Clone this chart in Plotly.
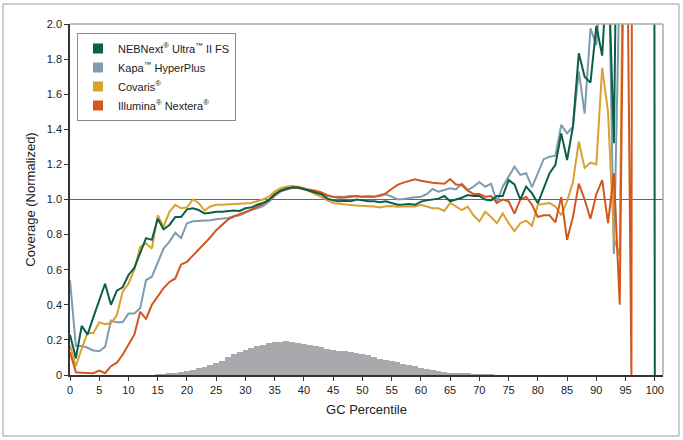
import plotly.graph_objects as go

gc = list(range(0, 101))

nebnext = [0.23, 0.095, 0.28, 0.23, 0.33, 0.43, 0.52, 0.40, 0.48, 0.50,
           0.57, 0.61, 0.70, 0.78, 0.77, 0.89, 0.83, 0.855, 0.90, 0.90,
           0.944, 0.95, 0.94, 0.92, 0.925, 0.93, 0.93, 0.935, 0.937, 0.935,
           0.95, 0.955, 0.97, 0.98, 0.997, 1.03, 1.05, 1.06, 1.07, 1.068,
           1.058, 1.05, 1.04, 1.03, 1.005, 0.995, 0.99, 0.993, 0.99, 1.0,
           0.995, 0.99, 0.99, 0.985, 0.99, 0.98, 0.97, 0.972, 0.975, 0.97,
           0.988, 0.995, 1.0, 1.005, 1.02, 0.99, 1.0, 1.01, 1.025, 1.02,
           1.02, 1.0, 0.995, 1.02, 1.02, 1.11, 1.086, 1.0, 1.073, 1.035,
           0.978, 1.064, 1.15, 1.197, 1.377, 1.225, 1.415, 1.833, 1.70, 1.666,
           1.99, 1.82, 2.4, 1.32, 4.7, 6.0, 8.0, 10.0, 15.0, 30.0,
           0.0]

kapa = [0.54, 0.165, 0.165, 0.155, 0.14, 0.135, 0.16, 0.31, 0.30, 0.30,
        0.35, 0.35, 0.38, 0.54, 0.56, 0.645, 0.72, 0.76, 0.81, 0.78,
        0.865, 0.876, 0.878, 0.878, 0.882, 0.887, 0.89, 0.895, 0.905, 0.91,
        0.925, 0.94, 0.95, 0.963, 0.987, 1.02, 1.045, 1.058, 1.067, 1.066,
        1.06, 1.055, 1.045, 1.035, 1.02, 1.016, 1.015, 1.016, 1.02, 1.016,
        1.016, 1.02, 1.016, 1.02, 1.03, 1.016, 1.0, 1.003, 1.01, 1.013,
        1.016, 1.03, 1.06, 1.045, 1.054, 1.064, 1.058, 1.09, 1.054, 1.073,
        1.1, 1.073, 1.09, 0.985, 1.073, 1.13, 1.187, 1.14, 1.15, 1.07,
        1.15, 1.23, 1.244, 1.25, 1.425, 1.377, 1.415, 1.73, 1.49, 1.975,
        1.88, 2.3, 2.6, 0.69, 2.3, 3.0, 4.0, 5.0, 6.0, 7.0,
        8.0]

covaris = [0.17, 0.05, 0.15, 0.24, 0.24, 0.30, 0.29, 0.295, 0.34, 0.475,
           0.52, 0.60, 0.73, 0.75, 0.72, 0.91, 0.845, 0.93, 0.97, 0.95,
           0.955, 1.0, 0.98, 0.937, 0.96, 0.97, 0.97, 0.972, 0.972, 0.975,
           0.98, 0.98, 0.99, 1.0, 1.016, 1.045, 1.064, 1.073, 1.077, 1.073,
           1.064, 1.045, 1.03, 1.015, 0.995, 0.98, 0.975, 0.97, 0.968, 0.966,
           0.965, 0.962, 0.96, 0.955, 0.962, 0.963, 0.958, 0.96, 0.958, 0.96,
           0.97, 0.96, 0.95, 0.95, 0.935, 0.98, 0.96, 0.94, 0.96, 0.91,
           0.875, 0.93, 0.90, 0.865, 0.92, 0.865, 0.82, 0.865, 0.88, 0.85,
           0.97, 0.975, 0.98, 0.96, 0.91, 0.99, 1.10, 1.33, 1.18, 1.21,
           1.20, 1.75, 1.50, 0.78, 0.68, 4.0, 5.0, 6.0, 6.0, 6.0,
           6.0]

illumina = [0.13, 0.015, 0.013, 0.01, 0.01, 0.025, 0.01, 0.05, 0.07, 0.115,
            0.17, 0.23, 0.36, 0.32, 0.40, 0.445, 0.495, 0.53, 0.55, 0.63,
            0.645, 0.68, 0.715, 0.745, 0.785, 0.825, 0.855, 0.885, 0.903, 0.915,
            0.927, 0.942, 0.958, 0.975, 0.995, 1.025, 1.05, 1.064, 1.068, 1.068,
            1.062, 1.058, 1.05, 1.04, 1.025, 1.015, 1.01, 1.012, 1.015, 1.02,
            1.015, 1.015, 1.015, 1.025, 1.035, 1.06, 1.083, 1.096, 1.107, 1.115,
            1.107, 1.10, 1.095, 1.092, 1.09, 1.117, 1.085, 1.083, 1.05, 1.032,
            1.032, 1.016, 1.02, 0.98, 1.0, 0.99, 0.92, 1.0, 1.015, 0.97,
            0.90, 0.91, 0.91, 0.87, 1.015, 0.77, 0.90, 1.09, 1.0, 0.89,
            1.03, 1.11, 0.865, 1.15, 0.40, 3.5, 0.0, 30.0, 30.0, 30.0,
            30.0]

hist_x = list(range(15, 73))
hist_y = [0.003, 0.005, 0.008, 0.013, 0.018, 0.024, 0.030, 0.038, 0.048, 0.058,
          0.068, 0.080, 0.105, 0.118, 0.132, 0.145, 0.155, 0.163, 0.172, 0.180,
          0.186, 0.190, 0.193, 0.190, 0.184, 0.178, 0.172, 0.165, 0.158, 0.150,
          0.143, 0.138, 0.135, 0.130, 0.126, 0.120, 0.113, 0.103, 0.094, 0.085,
          0.078, 0.072, 0.065, 0.058, 0.050, 0.042, 0.035, 0.028, 0.022, 0.017,
          0.013, 0.010, 0.008, 0.006, 0.004, 0.003, 0.002, 0.001]

names = ["NEBNext<sup>®</sup> Ultra<sup>™</sup> II FS",
         "Kapa<sup>™</sup> HyperPlus",
         "Covaris<sup>®</sup>",
         "Illumina<sup>®</sup> Nextera<sup>®</sup>"]
colors = ["#0b5e47", "#7f9bb0", "#d9a12e", "#d4561f"]
series = [nebnext, kapa, covaris, illumina]

x_ticks = list(range(0, 101, 5))
y_tickvals = [0, 0.2, 0.4, 0.6, 0.8, 1.0, 1.2, 1.4, 1.6, 1.8, 2.0]
y_ticktext = ["0", "0.2", "0.4", "0.6", "0.8", "1.0", "1.2", "1.4", "1.6", "1.8", "2.0"]

FONT = "Liberation Sans, Arial, Helvetica, sans-serif"

fig = go.Figure()
fig.add_trace(go.Bar(x=hist_x, y=hist_y, width=1.0, marker=dict(color="#a8a9ac", line=dict(width=0)),
                     showlegend=False, hoverinfo="skip"))

draw_order = [1, 2, 3, 0]
for i in draw_order:
    fig.add_trace(go.Scatter(x=gc, y=series[i], mode="lines",
                             line=dict(color=colors[i], width=2),
                             showlegend=False, name=names[i]))
for i in range(4):
    fig.add_trace(go.Scatter(x=[None], y=[None], mode="markers",
                             marker=dict(symbol="square", size=10, color=colors[i]),
                             name=names[i], showlegend=True))

W, H = 683, 440
L, R, T, B = 70, 20, 24, 65
pw, ph = W - L - R, H - T - B

def px2paper(px, py):
    return (px - L) / pw, (H - B - py) / ph

ox0, oy0 = px2paper(3, 436)
ox1, oy1 = px2paper(679, 4)
lx, ly = px2paper(77, 33)

fig.update_layout(
    width=W, height=H,
    margin=dict(l=L, r=R, t=T, b=B),
    paper_bgcolor="white", plot_bgcolor="white",
    font=dict(family=FONT, size=11, color="#222"),
    bargap=0,
    legend=dict(x=lx, y=ly, xanchor="left", yanchor="top",
                bordercolor="#8a8a8a", borderwidth=1, bgcolor="white",
                font=dict(size=11, family=FONT, color="#222"),
                itemwidth=30, tracegroupgap=0),
    xaxis=dict(range=[0, 101.4], tickvals=x_ticks, showgrid=False, zeroline=False,
               showline=True, linecolor="#333", linewidth=1.5,
               ticks="outside", ticklen=4, tickcolor="#333",
               title=dict(text="GC Percentile", font=dict(size=13), standoff=10)),
    yaxis=dict(range=[0, 2], tickvals=y_tickvals, ticktext=y_ticktext, showgrid=False, zeroline=False,
               showline=True, linecolor="#333", linewidth=1.5,
               ticks="outside", ticklen=4, tickcolor="#333",
               title=dict(text="Coverage (Normalized)", font=dict(size=13), standoff=8)),
    shapes=[
        dict(type="line", xref="paper", yref="y", x0=0, x1=1, y0=1, y1=1,
             line=dict(color="#666", width=1), layer="below"),
        dict(type="line", xref="paper", yref="paper", x0=0, x1=1, y0=1, y1=1,
             line=dict(color="#aaa", width=1.5)),
        dict(type="line", xref="paper", yref="paper", x0=1, x1=1, y0=0, y1=1,
             line=dict(color="#aaa", width=1.5)),
        dict(type="rect", xref="paper", yref="paper", x0=ox0, x1=ox1, y0=oy0, y1=oy1,
             line=dict(color="#9a9a9a", width=1)),
    ],
)

fig.write_html("out.html", config={"displayModeBar": False},
               post_script="document.body.style.margin='0';document.body.style.overflow='hidden';")
